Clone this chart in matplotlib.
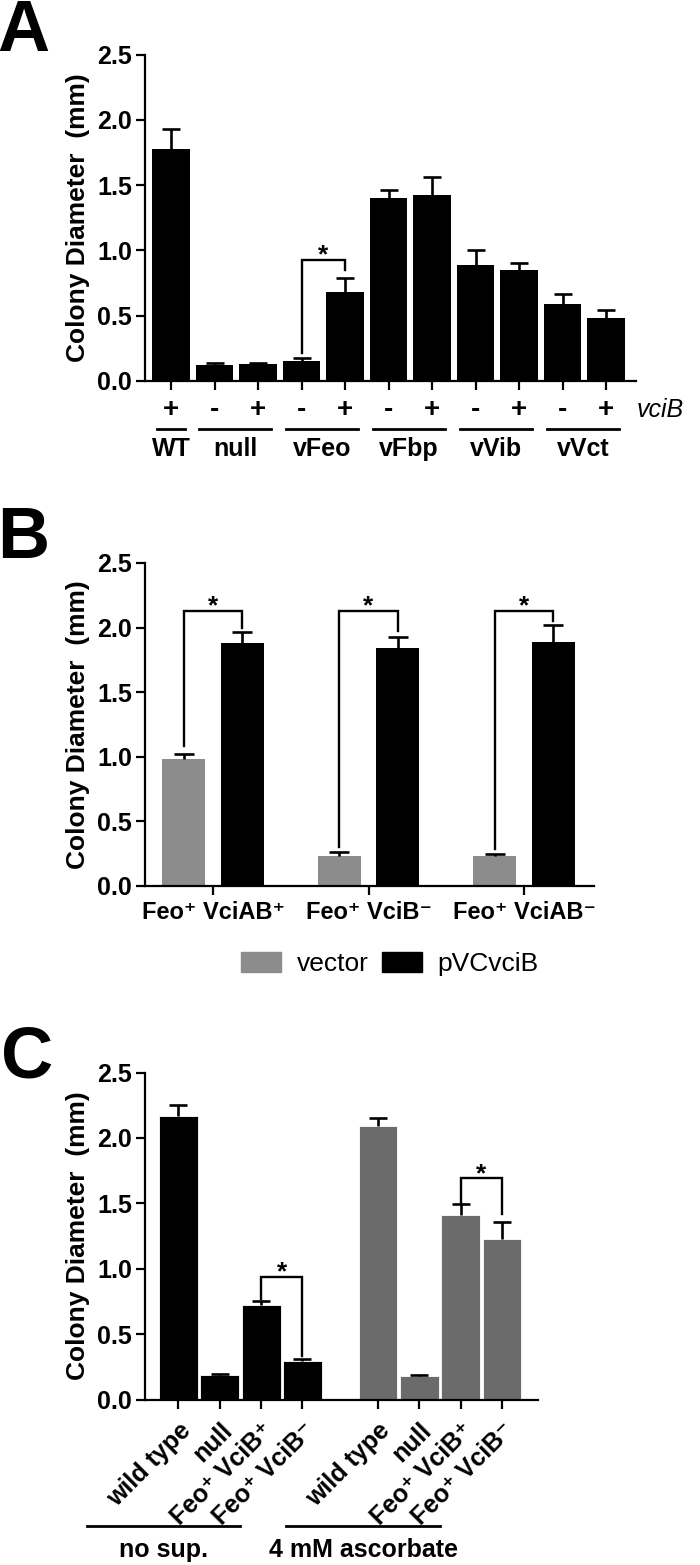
import numpy as np
import matplotlib
matplotlib.use("Agg")
from matplotlib import pyplot as plt
from matplotlib.patches import Patch
from matplotlib.lines import Line2D
from matplotlib.transforms import blended_transform_factory

plt.rcParams['font.family'] = ['Liberation Sans', 'DejaVu Sans']
plt.rcParams['font.weight'] = 'bold'
plt.rcParams['axes.labelweight'] = 'bold'
plt.rcParams['axes.linewidth'] = 1.6

# panel A
a_signs = ['+', '-', '+', '-', '+', '-', '+', '-', '+', '-', '+']
a_mean = [1.78, 0.125, 0.128, 0.155, 0.68, 1.405, 1.425, 0.89, 0.852, 0.59, 0.48]
a_upper = [1.93, 0.137, 0.14, 0.174, 0.79, 1.46, 1.56, 1.0, 0.903, 0.667, 0.54]
a_groups = ['WT', 'null', 'vFeo', 'vFbp', 'vVib', 'vVct']
a_members = [[0], [1, 2], [3, 4], [5, 6], [7, 8], [9, 10]]

# panel B
b_strains = ['Feo\u207a VciAB\u207a', 'Feo\u207a VciB\u207b', 'Feo\u207a VciAB\u207b']
b_vector = [0.98, 0.233, 0.23]
b_vector_up = [1.02, 0.26, 0.25]
b_pvc = [1.883, 1.84, 1.89]
b_pvc_up = [1.965, 1.927, 2.02]

# panel C
c_strains = ['wild type', 'null', 'Feo\u207a VciB\u207a', 'Feo\u207a VciB\u207b']
c_nosup = [2.165, 0.188, 0.724, 0.297]
c_nosup_up = [2.254, 0.198, 0.751, 0.307]
c_asc = [2.09, 0.178, 1.414, 1.229]
c_asc_up = [2.152, 0.191, 1.492, 1.356]
c_conditions = ['no sup.', '4 mM ascorbate']

W, H = 700, 1565
fig = plt.figure(figsize=(W / 100, H / 100), dpi=100)

def fx(px):
    return px / W

def fy(py):
    return 1 - py / H

def style(ax):
    ax.spines['top'].set_visible(False)
    ax.spines['right'].set_visible(False)
    ax.set_ylim(0, 2.5)
    ax.set_yticks([0, 0.5, 1.0, 1.5, 2.0, 2.5])
    ax.set_yticklabels(['0.0', '0.5', '1.0', '1.5', '2.0', '2.5'])
    ax.tick_params(axis='both', width=1.6, length=6.5, labelsize=18, pad=3)
    ax.set_ylabel('Colony Diameter  (mm)', fontsize=19, fontweight='bold', labelpad=5)

def bracket(ax, x1, x2, y1, ytop, y2):
    ax.plot([x1, x1, x2, x2], [y1, ytop, ytop, y2], color='black', lw=1.7,
            solid_joinstyle='miter')
    ax.text((x1 + x2) / 2, ytop + 0.035, '*', ha='center', va='center', fontsize=19)

def upper_err(ax, x, mean, up, cap):
    _, caps, _ = ax.errorbar(x, mean, yerr=[np.zeros(len(mean)), np.array(up) - np.array(mean)],
                             fmt='none', ecolor='black', elinewidth=1.9, capsize=cap,
                             capthick=1.9)
    caps[0].set_visible(False)

# ---- A ----
axA = fig.add_axes([fx(145), fy(381), (636 - 145) / W, (381 - 54.5) / H])
xa = np.arange(len(a_mean))
axA.bar(xa, a_mean, width=0.86, color='black')
upper_err(axA, xa, a_mean, a_upper, 6.2)
axA.set_xlim(-0.6, 10.69)
axA.set_xticks(xa)
axA.set_xticklabels([])
style(axA)
bracket(axA, 3, 4, 0.215, 0.927, 0.848)
tA = axA.get_xaxis_transform()
ya = lambda py: (381 - py) / (381 - 54.5)
for x, s in zip(xa, a_signs):
    axA.text(x, ya(410), s, transform=tA, ha='center', va='center', fontsize=20)
for name, idx in zip(a_groups, a_members):
    x0 = idx[0] - (0.32 if len(idx) == 1 else 0.36)
    x1 = idx[-1] + (0.32 if len(idx) == 1 else 0.3)
    axA.add_line(Line2D([x0, x1], [ya(429), ya(429)], transform=tA, color='black',
                        lw=2.0, clip_on=False))
    axA.text((x0 + x1) / 2, ya(449), name, transform=tA, ha='center', va='center',
             fontsize=18)
fig.text(fx(637), fy(410), 'vciB', style='italic', fontweight='normal', fontsize=18,
         ha='left', va='center')
fig.text(fx(-3), fy(51), 'A', fontsize=52, ha='left', va='baseline')

# ---- B ----
axB = fig.add_axes([fx(145), fy(886), (594 - 145) / W, (886 - 563) / H])
xb = np.arange(len(b_strains))
off, bw = 0.188, 0.277
axB.bar(xb - off, b_vector, width=bw, color='#8c8c8c')
axB.bar(xb + off, b_pvc, width=bw, color='black')
upper_err(axB, xb - off, b_vector, b_vector_up, 7)
upper_err(axB, xb + off, b_pvc, b_pvc_up, 7)
axB.set_xlim(-0.4375, 2.45)
axB.set_xticks(xb)
axB.set_xticklabels(b_strains)
style(axB)
axB.tick_params(axis='x', labelsize=17, pad=4)
left_bottoms = [1.08, 0.30, 0.29]
right_bottoms = [2.0, 1.97, 2.05]
for i in range(len(b_strains)):
    bracket(axB, i - off, i + off, left_bottoms[i], 2.13, right_bottoms[i])
handles = [Patch(color='#8c8c8c', label='vector'), Patch(color='black', label='pVCvciB')]
fig.legend(handles=handles, loc='center', bbox_to_anchor=(fx(390), fy(964)), ncol=2,
           frameon=False, prop={'family': ['Liberation Sans Narrow', 'Liberation Sans'],
                                'weight': 'normal', 'size': 19},
           handlelength=1.5, handleheight=0.8, handletextpad=0.6, columnspacing=0.5)
fig.text(fx(-3), fy(558), 'B', fontsize=52, ha='left', va='baseline')

# ---- C ----
axC = fig.add_axes([fx(145), fy(1399.5), (538 - 145) / W, (1399.5 - 1072.5) / H])
n = len(c_strains)
x1 = np.arange(n)
x2 = np.arange(n) + 4.83
axC.bar(x1, c_nosup, width=0.94, color='black', edgecolor='white', linewidth=0.6)
axC.bar(x2, c_asc, width=0.94, color='#6b6b6b', edgecolor='white', linewidth=0.6)
upper_err(axC, x1, c_nosup, c_nosup_up, 6.8)
upper_err(axC, x2, c_asc, c_asc_up, 6.8)
axC.set_xlim(-0.81, 8.7)
axC.set_xticks(np.r_[x1, x2])
axC.set_xticklabels(c_strains * 2, rotation=45, ha='right', va='top',
                    rotation_mode='anchor')
style(axC)
axC.tick_params(axis='x', labelsize=18, pad=7)
bracket(axC, x1[2], x1[3], 0.765, 0.936, 0.33)
bracket(axC, x2[2], x2[3], 1.5, 1.69, 1.42)
tC = blended_transform_factory(axC.transData, fig.transFigure)
for xs, label in zip([x1, x2], c_conditions):
    c = xs.mean() - 1.86
    axC.add_line(Line2D([c - 1.86, c + 1.86], [fy(1526), fy(1526)], transform=tC,
                        color='black', lw=2.0, clip_on=False))
    axC.text(c, fy(1550), label, transform=tC, ha='center', va='center', fontsize=18)
fig.text(fx(1), fy(1077), 'C', fontsize=52, ha='left', va='baseline')

fig.savefig('out.png', dpi=100)
